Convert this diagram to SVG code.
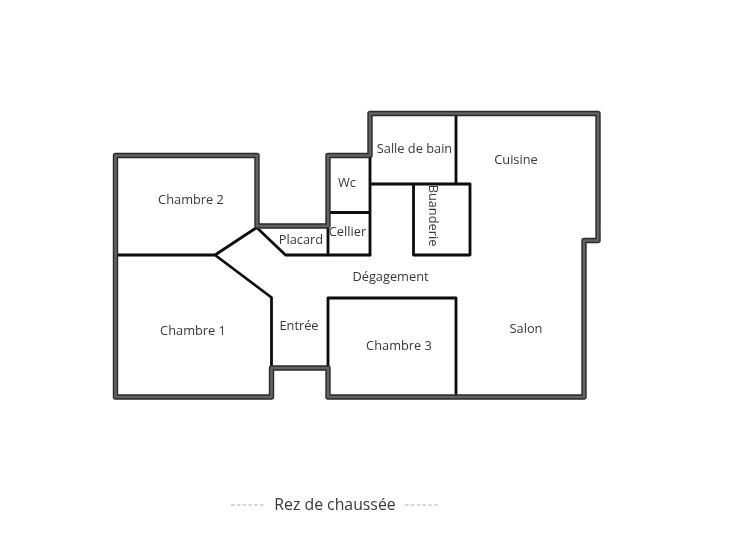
<svg xmlns="http://www.w3.org/2000/svg" width="747" height="560" viewBox="0 0 747 560">
<defs><filter id="soft" filterUnits="userSpaceOnUse" x="0" y="0" width="747" height="560"><feGaussianBlur stdDeviation="0.4"/></filter></defs>
<style>
.o{fill:none;stroke:#2a2a2a;stroke-width:5.4;stroke-linejoin:round;stroke-linecap:round}
.i{fill:none;stroke:#626262;stroke-width:2.6;stroke-linejoin:miter;stroke-linecap:butt}
.t{fill:none;stroke:#0c0c0c;stroke-width:2.8;stroke-linejoin:round;stroke-linecap:round}
text{font-family:"Open Sans","Noto Sans","Liberation Sans",sans-serif;font-size:12.8px;fill:#383838;text-anchor:middle}
.d{fill:none;stroke:#b0b0b0;stroke-width:1.2;stroke-dasharray:3.6 2.2}
</style>
<rect width="747" height="560" fill="#ffffff"/>
<g filter="url(#soft)">
<g id="thin-walls">
<path class="t" d="M115.500 255H215L256.700 227.500L285.500 255H370M215 255L271.500 297.500V368"/>
<path class="t" d="M328 368V298H456V397"/>
<path class="t" d="M370 155V255M370 184H470V255H413.500V184M456 113V184M328 212.500H370M328 226V255"/>
</g>
<g id="thick-walls">
<path id="wall-outer" class="o" d="M257 227V155.500H115.500V397H271.500V368H328V397H584V240.500H598V113.500H370V155.500H328V226H257Z"/>
<path class="i" d="M257 227V155.500H115.500V397H271.500V368H328V397H584V240.500H598V113.500H370V155.500H328V226H257Z"/>
</g>
<g id="labels">
<text x="191" y="203.500">Chambre 2</text>
<text x="193" y="335">Chambre 1</text>
<text x="399" y="350">Chambre 3</text>
<text x="301" y="244">Placard</text>
<text x="347.500" y="235.500">Cellier</text>
<text x="347" y="187">Wc</text>
<text x="414.500" y="153">Salle de bain</text>
<text x="516" y="164">Cuisine</text>
<text x="526" y="332.500">Salon</text>
<text x="299" y="330">Entrée</text>
<text x="390.500" y="280.500">Dégagement</text>
<text transform="translate(429 215.500) rotate(90)">Buanderie</text>
</g>
<g id="caption">
<path class="d" d="M231 505H265M405 505H440"/>
<text x="335" y="510" style="font-size:15.800px">Rez de chaussée</text>
</g>
</g>
</svg>
